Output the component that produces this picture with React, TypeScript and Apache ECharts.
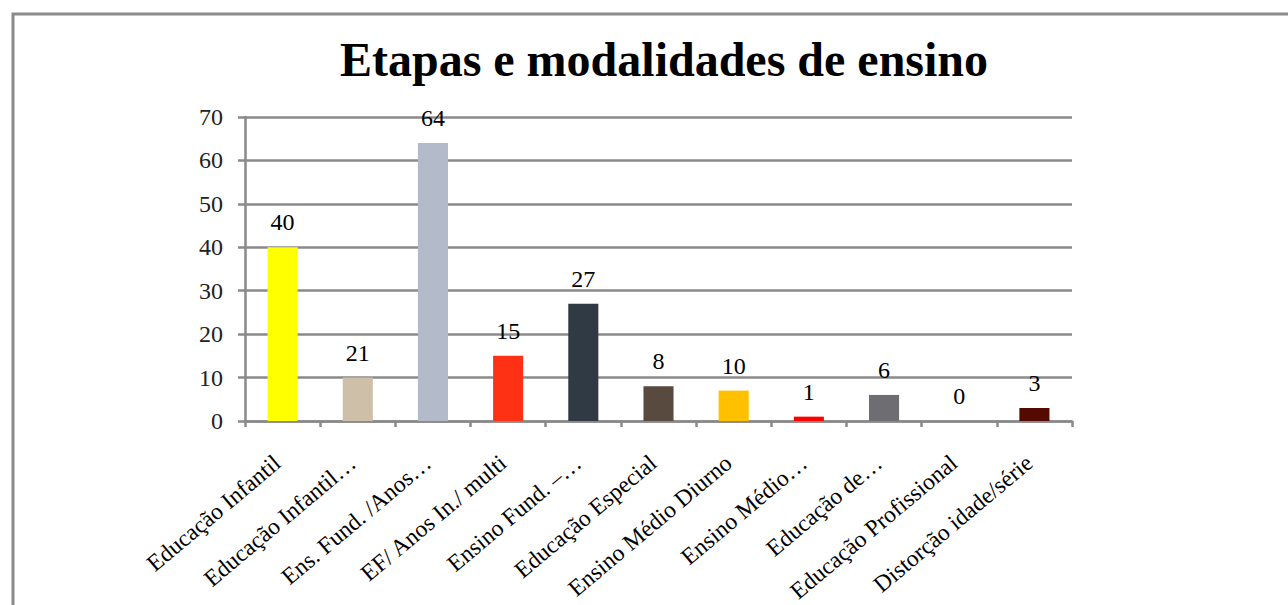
import React, { useEffect, useRef } from "react";
import * as echarts from "echarts";

const title = "Etapas e modalidades de ensino";
const categories = [
  "Educação Infantil",
  "Educação Infantil…",
  "Ens. Fund. /Anos…",
  "EF/ Anos In./ multi",
  "Ensino Fund. –…",
  "Educação Especial",
  "Ensino Médio Diurno",
  "Ensino Médio…",
  "Educação de…",
  "Educação Profissional",
  "Distorção idade/série",
];
const barValues = [40, 10, 64, 15, 27, 8, 7, 1, 6, 0, 3];
const labelValues = [40, 21, 64, 15, 27, 8, 10, 1, 6, 0, 3];
const barColors = [
  "#FFFF00",
  "#CDBFA8",
  "#B3BACA",
  "#FF3115",
  "#2F3A44",
  "#594A40",
  "#FFC000",
  "#FF0000",
  "#6D6D72",
  "#9E9E9E",
  "#540A00",
];
const yTicks = [0, 10, 20, 30, 40, 50, 60, 70];

export default function App() {
  const ref = useRef<HTMLDivElement>(null);
  useEffect(() => {
    if (!ref.current) return;
    const chart = echarts.init(ref.current, null, { renderer: "svg" });
    const font = "Liberation Serif";
    chart.setOption({
      animation: false,
      backgroundColor: "#ffffff",
      textStyle: { fontFamily: font },
      title: {
        text: title,
        left: 659,
        textAlign: "center",
        top: 30,
        textStyle: {
          fontFamily: font,
          fontWeight: "bold",
          fontSize: 48,
          color: "#000",
        },
      },
      graphic: [
        {
          type: "rect",
          shape: { x: 13, y: 14, width: 1400, height: 800 },
          style: { fill: "none", stroke: "#8a8a8a", lineWidth: 3 },
          silent: true,
        },
      ],
      grid: {
        left: 245,
        right: 216,
        top: 117,
        bottom: 184,
        containLabel: false,
        outerBoundsMode: "none",
      },
      xAxis: {
        type: "category",
        data: categories,
        axisLine: { show: true, lineStyle: { color: "#8a8a8a", width: 2.5 } },
        axisTick: {
          show: true,
          alignWithLabel: false,
          length: 6,
          lineStyle: { color: "#8a8a8a", width: 2.5 },
        },
        axisLabel: {
          interval: 0,
          rotate: 40,
          margin: 34,
          padding: [0, 7, 0, 0],
          fontFamily: font,
          fontSize: 23.5,
          color: "#000",
        },
      },
      yAxis: {
        type: "value",
        min: yTicks[0],
        max: yTicks[yTicks.length - 1],
        interval: 10,
        axisLine: { show: true, lineStyle: { color: "#8a8a8a", width: 2.5 } },
        axisTick: { show: true, length: 7, lineStyle: { color: "#8a8a8a", width: 2.5 } },
        splitLine: { show: true, lineStyle: { color: "#8a8a8a", width: 2.5 } },
        axisLabel: {
          margin: 22,
          fontFamily: font,
          fontSize: 24,
          color: "#222",
        },
      },
      series: [
        {
          type: "bar",
          barWidth: "40%",
          data: barValues.map((v, i) => ({
            value: v,
            itemStyle: { color: barColors[i] },
          })),
          label: {
            show: true,
            position: "top",
            distance: 13,
            fontFamily: font,
            fontSize: 24,
            color: "#000",
            formatter: (p: any) => String(labelValues[p.dataIndex]),
          },
        },
      ],
    });
    return () => chart.dispose();
  }, []);
  return (
    <div
      ref={ref}
      style={{ position: "fixed", left: 0, top: 0, width: 1288, height: 605 }}
    />
  );
}
